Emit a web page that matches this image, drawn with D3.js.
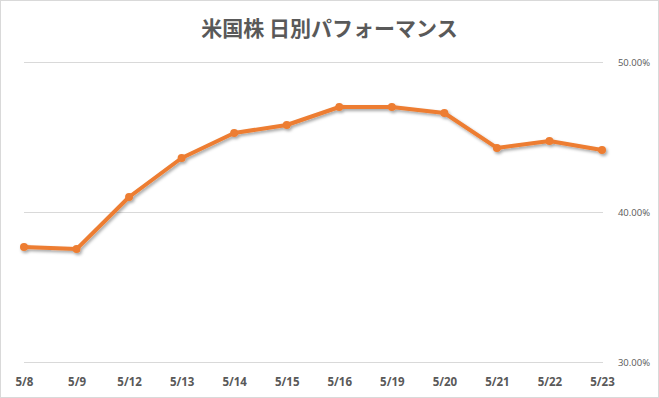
<!DOCTYPE html>
<html><head><meta charset="utf-8">
<script src="https://cdn.jsdelivr.net/npm/d3@7"></script>
<style>body{margin:0;background:#fff;}svg{display:block;}</style>
</head><body>
<script>
const categories = ["5/8","5/9","5/12","5/13","5/14","5/15","5/16","5/19","5/20","5/21","5/22","5/23"];
const values = [37.67,37.53,41.0,43.6,45.27,45.8,47.0,47.0,46.6,44.27,44.73,44.13];
const yTicks = [30,40,50];
const title = "米国株 日別パフォーマンス";

const W=659,H=398;
const svg=d3.select("body").append("svg").attr("width",W).attr("height",H);
svg.append("rect").attr("x",0.5).attr("y",0.5).attr("width",W-1).attr("height",H-1)
  .attr("fill","#fff").attr("stroke","#d9d9d9");

const defs=svg.append("defs");
const f=defs.append("filter").attr("id","sh").attr("x","-10%").attr("y","-10%").attr("width","120%").attr("height","130%");
f.append("feDropShadow").attr("dx",1.5).attr("dy",2).attr("stdDeviation",1.5).attr("flood-color","#000").attr("flood-opacity",0.35);

const x=d3.scalePoint().domain(categories).range([24,602]);
const y=d3.scaleLinear().domain([30,50]).range([362,62]);

svg.append("text").attr("x",329.5).attr("y",35.5).attr("text-anchor","middle")
  .attr("font-family","'Noto Sans CJK JP', sans-serif").attr("font-size",21).attr("font-weight",700)
  .attr("fill","#595959").text(title);

// grid
svg.append("g").selectAll("line").data(yTicks).join("line")
  .attr("x1",24).attr("x2",603).attr("y1",d=>Math.round(y(d))+0.5).attr("y2",d=>Math.round(y(d))+0.5)
  .attr("stroke","#d9d9d9").attr("stroke-width",1);

// right axis
const ya=svg.append("g").attr("transform","translate(650,0)")
  .call(d3.axisRight(y).tickValues(yTicks).tickFormat(d=>d.toFixed(2)+"%").tickSize(0).tickPadding(0));
ya.select(".domain").remove();
ya.selectAll("text").attr("text-anchor","end").attr("font-family","'Open Sans', sans-serif")
  .attr("font-size",9.5).attr("fill","#595959").attr("dy","0.35em");

// x axis
const xa=svg.append("g").attr("transform","translate(0,378)")
  .call(d3.axisBottom(x).tickSize(0).tickPadding(0));
xa.select(".domain").remove();
xa.selectAll("text").attr("font-family","'Open Sans', sans-serif").attr("font-size",11.5)
  .attr("font-weight",700).attr("fill","#595959").attr("dy","0.71em");

const data=categories.map((c,i)=>({c,v:values[i]}));
const g=svg.append("g").attr("filter","url(#sh)");
g.append("path").datum(data).attr("fill","none").attr("stroke","#ED7D31").attr("stroke-width",4)
  .attr("stroke-linejoin","round").attr("stroke-linecap","round")
  .attr("d",d3.line().x(d=>x(d.c)).y(d=>y(d.v)));
g.selectAll("circle").data(data).join("circle").attr("cx",d=>x(d.c)).attr("cy",d=>y(d.v))
  .attr("r",4).attr("fill","#ED7D31");
</script>
</body></html>
